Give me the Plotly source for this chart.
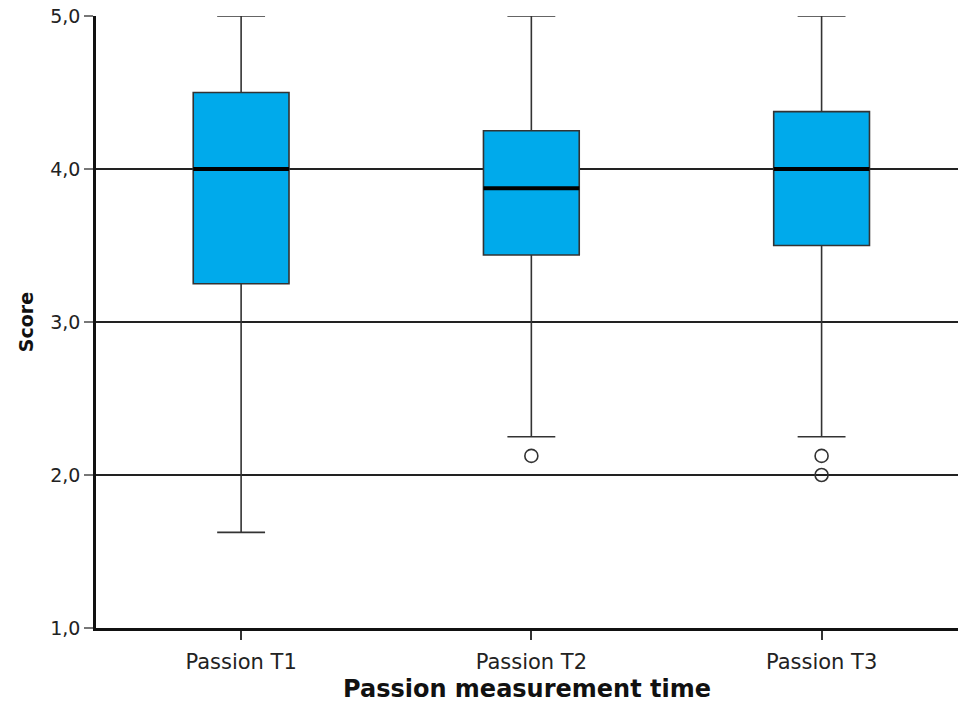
import plotly.graph_objects as go

categories = ["Passion T1", "Passion T2", "Passion T3"]
q1 = [3.25, 3.4375, 3.5]
medians = [4.0, 3.875, 4.0]
q3 = [4.5, 4.25, 4.375]
lower_whisker = [1.625, 2.25, 2.25]
upper_whisker = [5.0, 5.0, 5.0]
outliers = [[], [2.125], [2.125, 2.0]]

y_ticks = [1.0, 2.0, 3.0, 4.0, 5.0]

box_width = 0.33
positions = list(range(len(categories)))

fig = go.Figure()

fig.add_trace(go.Box(
    x=positions,
    q1=q1, median=medians, q3=q3,
    lowerfence=lower_whisker, upperfence=upper_whisker,
    width=box_width,
    whiskerwidth=0.5,
    fillcolor="#00AAEB",
    line=dict(color="#333333", width=1.6),
    boxpoints=False,
    hoverinfo="skip",
    showlegend=False,
))

# thick median lines
for i, m in zip(positions, medians):
    fig.add_trace(go.Scatter(
        x=[i - box_width / 2, i + box_width / 2], y=[m, m],
        mode="lines", line=dict(color="black", width=4),
        showlegend=False, hoverinfo="skip",
    ))

# outliers
ox, oy = [], []
for i, vals in zip(positions, outliers):
    for v in vals:
        ox.append(i)
        oy.append(v)
fig.add_trace(go.Scatter(
    x=ox, y=oy, mode="markers",
    marker=dict(symbol="circle-open", size=13, color="#333333", line=dict(width=1.6)),
    showlegend=False, hoverinfo="skip",
))

fig.update_layout(
    width=958, height=711,
    margin=dict(l=96, r=0, t=16, b=83),
    paper_bgcolor="white", plot_bgcolor="white",
    separators=",.",
    font=dict(family="DejaVu Sans", color="#222222"),
    showlegend=False,
)

fig.update_xaxes(
    range=[-0.5, 2.47],
    tickmode="array", tickvals=positions, ticktext=categories,
    ticks="outside", ticklen=9, tickcolor="#333333", tickwidth=1.5,
    ticklabelstandoff=4,
    showgrid=False, zeroline=False,
    showline=True, linecolor="#111111", linewidth=2.5,
    tickfont=dict(size=21, color="#222222"),
    title=dict(text="<b>Passion measurement time</b>", font=dict(size=24, color="#111111"), standoff=8),
)

fig.update_yaxes(
    range=[1.0, 5.0],
    tickmode="array", tickvals=y_ticks, tickformat=".1f",
    ticks="outside", ticklen=9, tickcolor="#777777", tickwidth=2,
    showgrid=True, gridcolor="#222222", gridwidth=1.5,
    zeroline=False,
    showline=True, linecolor="#111111", linewidth=2.5,
    tickfont=dict(size=19, color="#222222"),
    title=dict(text="<b>Score</b>", font=dict(size=19, color="#111111"), standoff=12),
)

fig.write_html(
    "out.html",
    config={"displayModeBar": False},
    post_script="document.body.style.margin='0';document.body.style.overflow='hidden';",
)
